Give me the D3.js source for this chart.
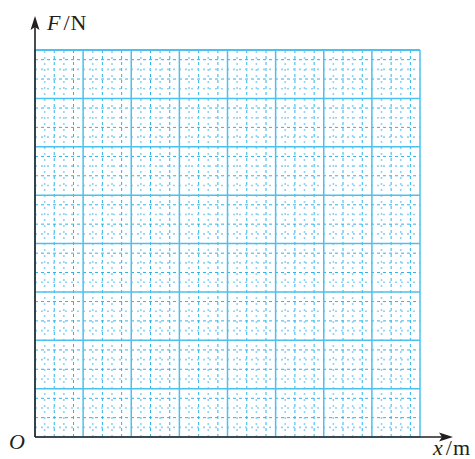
<!DOCTYPE html>
<html><head><meta charset="utf-8">
<script src="https://cdn.jsdelivr.net/npm/d3@7/dist/d3.min.js"></script>
<style>body{margin:0;background:#fff}svg{display:block}</style>
</head><body>
<script>
// Grid paper: 8 x 8 major squares, each split into 5 minor divisions
const xMajorTicks = [0, 5, 10, 15, 20, 25, 30, 35, 40];
const yMajorTicks = [0, 5, 10, 15, 20, 25, 30, 35, 40];
const xMinorTicks = d3.range(0, 41).filter(v => v % 5 !== 0);
const yMinorTicks = d3.range(0, 41).filter(v => v % 5 !== 0);
const axisLabels = {x: "x", xUnit: "m", y: "F", yUnit: "N", origin: "O"};

const W = 475, H = 459;
const svg = d3.select("body").append("svg").attr("width", W).attr("height", H);
const x = d3.scaleLinear().domain([0, 40]).range([35, 420]);
const y = d3.scaleLinear().domain([0, 40]).range([437, 50]);

const grid = svg.append("g");
const blue = "#2db3ea";
function minorStyle(sel, v) {
  const light = (v % 5) === 1 || (v % 5) === 3;
  sel.attr("stroke", light ? "#8fd4f3" : blue)
     .attr("stroke-width", light ? 1.6 : 1)
     .attr("stroke-dasharray", light ? "2,4" : "3,3");
}
xMinorTicks.forEach(v => {
  grid.append("line").attr("x1", x(v)).attr("x2", x(v)).attr("y1", y(0)).attr("y2", y(40))
    .call(minorStyle, v);
});
yMinorTicks.forEach(v => {
  grid.append("line").attr("y1", y(v)).attr("y2", y(v)).attr("x1", x(0)).attr("x2", x(40))
    .call(minorStyle, v);
});
// major lines
xMajorTicks.forEach(v => {
  grid.append("line").attr("x1", x(v)).attr("x2", x(v)).attr("y1", y(0)).attr("y2", y(40))
    .attr("stroke", "#4cc0ee").attr("stroke-width", 1.5);
});
yMajorTicks.forEach(v => {
  grid.append("line").attr("y1", y(v)).attr("y2", y(v)).attr("x1", x(0)).attr("x2", x(40))
    .attr("stroke", "#4cc0ee").attr("stroke-width", v === 40 ? 2.2 : 1.5);
});

// axes
const ax = svg.append("g").attr("stroke", "#231f20").attr("fill", "#231f20");
ax.append("line").attr("x1", x(0)).attr("x2", 446).attr("y1", y(0)).attr("y2", y(0)).attr("stroke-width", 1.6);
ax.append("line").attr("x1", x(0)).attr("x2", x(0)).attr("y1", y(0)).attr("y2", 22).attr("stroke-width", 1.6);
ax.append("path").attr("stroke", "none")
  .attr("d", `M${x(0)},16 L${x(0)+4.5},30 L${x(0)},27 L${x(0)-4.5},30 Z`);
ax.append("path").attr("stroke", "none")
  .attr("d", `M453,${y(0)} L439,${y(0)-4.5} L442,${y(0)} L439,${y(0)+4.5} Z`);

const font = "'Liberation Serif', 'Times New Roman', serif";
function label(tx, ty, italic, unit, size) {
  const t = svg.append("text").attr("x", tx).attr("y", ty)
    .attr("font-family", font).attr("font-size", size).attr("fill", "#231f20");
  t.append("tspan").attr("font-style", "italic").text(italic);
  if (unit) {
    t.append("tspan").attr("dx", 3).text("/");
    t.append("tspan").attr("dx", 1).text(unit);
  }
}
label(47, 30, axisLabels.y, axisLabels.yUnit, 22);
label(433, 455, axisLabels.x, axisLabels.xUnit, 22);
label(9, 449, axisLabels.origin, null, 22);
</script>
</body></html>
